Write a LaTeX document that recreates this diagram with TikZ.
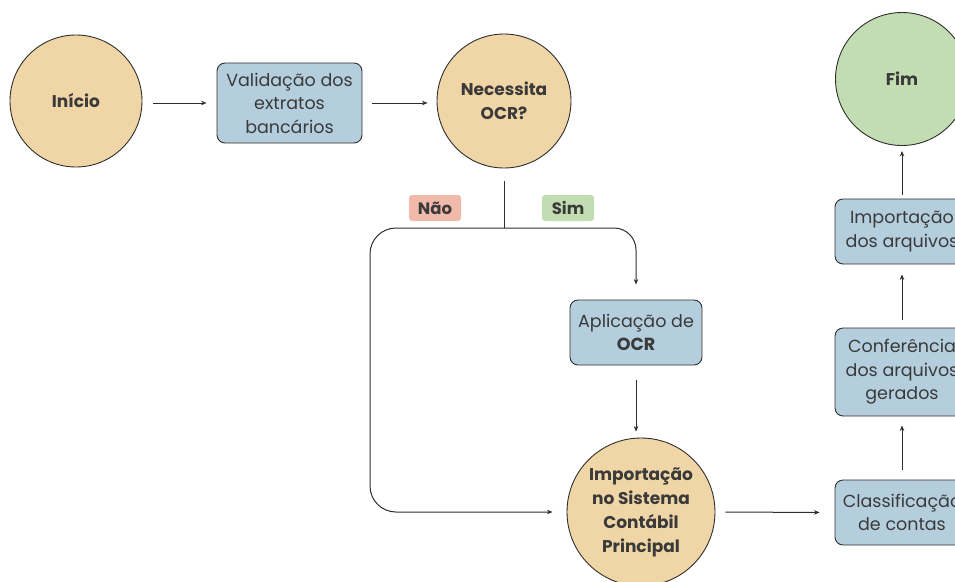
\documentclass[tikz,border=0pt]{standalone}
\usepackage{fontspec}
\setmainfont{Poppins}
\usetikzlibrary{arrows.meta}

\definecolor{sand}{HTML}{F0D6A6}
\definecolor{mint}{HTML}{C3DDB2}
\definecolor{steel}{HTML}{B4CEDD}
\definecolor{salmon}{HTML}{F1B9A9}
\definecolor{ink}{HTML}{2E2E2E}
\definecolor{txt}{HTML}{3A3A3A}

\tikzset{
    term/.style={circle, draw=ink, line width=0.9pt, fill=sand, minimum size=132pt,
	inner sep=0pt, align=center, text=txt,
	font=\fontsize{17}{24}\selectfont\bfseries},
    task/.style={rectangle, rounded corners=8pt, draw=ink, line width=0.9pt, fill=steel,
	minimum width=134pt, minimum height=65pt, inner sep=0pt, align=center, text=txt,
	font=\fontsize{17.5}{23.5}\selectfont},
    tag/.style={rounded corners=3pt, minimum width=52pt, minimum height=26pt,
	inner sep=0pt, text=txt, font=\fontsize{16.5}{18}\selectfont\bfseries},
    flow/.style={-{Stealth[length=5.5pt,width=4.5pt]}, draw=ink, line width=1pt},
    link/.style={draw=ink, line width=1pt}
}

\begin{document}
\begin{tikzpicture}[x=1pt, y=-1pt]
    \useasboundingbox (0, 0) rectangle (955, 581);
    \clip (0, 0) rectangle (955, 581);

    % nodes
    \node [term] (inicio) at (76, 101) {Início};
    \node [task, minimum width=145pt, minimum height=80pt] (valid) at (289.5, 103)
	{Validação dos\\extratos\\bancários};
    \node [term, minimum size=134pt] (ocr) at (504, 101) {Necessita\\OCR?};
    \node [task, minimum width=132pt] (aplic) at (636, 332.5)
	{Aplicação de\\\textbf{OCR}};
    \node [term, minimum size=148pt] (sistema) at (641, 512)
	{Importação\\no Sistema\\Contábil\\Principal};
    \node [task] (classif) at (902, 512.5) {Classificação\\de contas};
    \node [task, minimum height=88pt] (confer) at (902, 372)
	{Conferência\\dos arquivos\\gerados};
    \node [task] (imparq) at (902, 231.5) {Importação\\dos arquivos};
    \node [term, fill=mint, minimum size=133pt] (fim) at (902, 79) {Fim};

    \node [tag, fill=salmon] (nao) at (435, 208) {Não};
    \node [tag, fill=mint] (sim) at (568, 208) {Sim};

    \coordinate (split) at (504, 228);
    \coordinate (desvio) at (370, 512);

    % connectors
    \draw [flow, shorten <=11pt, shorten >=10pt] (inicio.east |- valid.west) -- (valid.west);
    \draw [flow, shorten <=10pt, shorten >=9pt] (valid.east) -- (valid.east -| ocr.west);
    \draw [link, shorten <=13pt] (ocr.south) -- (split);
    \draw [flow, rounded corners=22pt, shorten >=15pt] (split) -| (aplic.north);
    \draw [flow, rounded corners=26pt, shorten >=14pt] (split) -| (desvio) -- (sistema.west);
    \draw [flow, shorten <=15pt, shorten >=6pt] (aplic.south) -- (aplic.south |- sistema.north);
    \draw [flow, shorten <=10pt, shorten >=15pt] (sistema.east) -- (classif.west);
    \draw [flow, shorten <=10pt, shorten >=9pt] (classif.north) -- (confer.south);
    \draw [flow, shorten <=8pt, shorten >=10pt] (confer.north) -- (imparq.south);
    \draw [flow, shorten <=4pt, shorten >=5pt] (imparq.north) -- (fim.south);
\end{tikzpicture}
\end{document}
